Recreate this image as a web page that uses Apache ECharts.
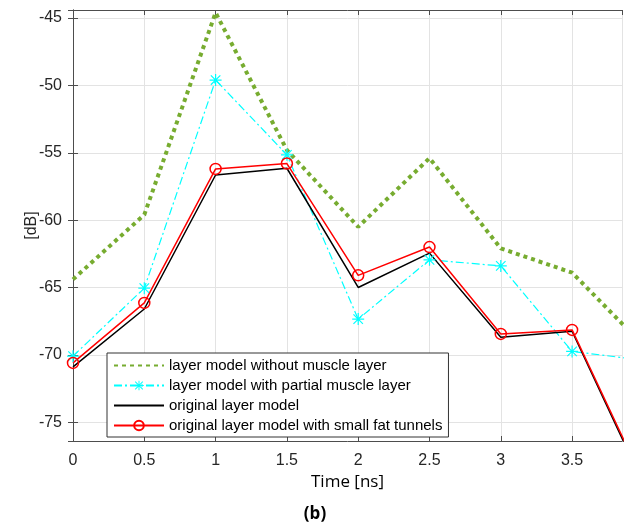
<!DOCTYPE html>
<html>
<head>
<meta charset="utf-8">
<script src="https://cdn.jsdelivr.net/npm/echarts@6/dist/echarts.min.js"></script>
<style>
  html, body { margin: 0; padding: 0; background: #fff; }
  #chart { width: 630px; height: 526px; }
</style>
</head>
<body>
<div id="chart"></div>
<script>
// time axis [ns]; last point lies past the visible range and gets clipped
const timeNs = [0, 0.5, 1, 1.5, 2, 2.5, 3, 3.5, 4];
const withoutMuscle = [-64.4, -59.6, -44.6, -54.8, -60.5, -55.4, -62.1, -63.9, -69.3];
const partialMuscle = [-70.1, -65.05, -49.6, -55.15, -67.35, -62.95, -63.4, -69.75, -70.4];
const originalModel = [-70.9, -66.6, -56.65, -56.15, -65.0, -62.45, -68.7, -68.25, -79.6];
const fatTunnels = [-70.6, -66.15, -56.2, -55.8, -64.1, -62.0, -68.45, -68.15, -79.4];
const seriesNames = [
  'layer model without muscle layer',
  'layer model with partial muscle layer',
  'original layer model',
  'original layer model with small fat tunnels'
];

const xRange = [0, 3.85];
const yRange = [-76.4, -44.4];

// asterisk marker (+ and x overlaid)
const asterisk = 'path://M0 9L20 9L20 11L0 11Z M9 0L11 0L11 20L9 20Z ' +
  'M1.4 2.8L2.8 1.4L18.6 17.2L17.2 18.6Z M17.2 1.4L18.6 2.8L2.8 18.6L1.4 17.2Z';

const pairs = vals => timeNs.map((t, i) => [t, vals[i]]);
const axisCol = '#4d4d4d';
const labelFont = { fontFamily: 'Liberation Sans', fontSize: 16, color: '#262626' };

const chart = echarts.init(document.getElementById('chart'), null, { renderer: 'canvas' });

chart.setOption({
  animation: false,
  backgroundColor: '#fff',
  grid: { left: 73, right: 8, top: 10, bottom: 85 },
  title: {
    text: '(b)', left: 'center', top: 501,
    textStyle: { fontFamily: 'Open Sans', fontWeight: 'bold', fontSize: 17, color: '#000' }
  },
  legend: {
    orient: 'vertical', left: 107, top: 353,
    itemWidth: 50, itemHeight: 12, itemGap: 5,
    padding: [5, 6, 4, 6],
    borderColor: '#333', borderWidth: 1, backgroundColor: '#fff',
    textStyle: { fontFamily: 'Liberation Sans', fontSize: 15, color: '#000' },
    data: [
      { name: seriesNames[0], itemStyle: { opacity: 0 } },
      { name: seriesNames[1] },
      { name: seriesNames[2], itemStyle: { opacity: 0 } },
      { name: seriesNames[3] }
    ]
  },
  xAxis: [{
    type: 'value', min: xRange[0], max: xRange[1], interval: 0.5,
    name: 'Time [ns]', nameLocation: 'middle', nameGap: 33,
    nameTextStyle: { fontFamily: 'Open Sans', fontSize: 17, color: '#000' },
    axisLine: { lineStyle: { color: axisCol } },
    axisTick: { inside: true, length: 5, lineStyle: { color: axisCol } },
    axisLabel: Object.assign({ margin: 12, showMaxLabel: false }, labelFont),
    splitLine: { lineStyle: { color: '#e3e3e3' } }
  }, {
    type: 'value', position: 'top', min: xRange[0], max: xRange[1], interval: 0.5,
    axisLine: { lineStyle: { color: axisCol } },
    axisTick: { inside: true, length: 5, lineStyle: { color: axisCol } },
    axisLabel: { show: false }, splitLine: { show: false }
  }],
  yAxis: [{
    type: 'value', min: yRange[0], max: yRange[1], splitNumber: 6,
    name: '[dB]', nameLocation: 'middle', nameGap: 33, nameMoveOverlap: false,
    nameTextStyle: { fontFamily: 'Liberation Sans', fontSize: 16, color: '#262626' },
    axisLine: { show: true, lineStyle: { color: axisCol } },
    axisTick: { show: true, inside: true, length: 5, lineStyle: { color: axisCol } },
    axisLabel: Object.assign({ margin: 11, showMinLabel: false, showMaxLabel: false }, labelFont),
    splitLine: { lineStyle: { color: '#e3e3e3' } }
  }, {
    type: 'value', position: 'right', min: yRange[0], max: yRange[1], splitNumber: 6,
    axisLine: { show: true, lineStyle: { color: axisCol } },
    axisTick: { show: true, inside: true, length: 5, lineStyle: { color: axisCol } },
    axisLabel: { show: false }, splitLine: { show: false }
  }],
  series: [{
    name: seriesNames[0], type: 'line', data: pairs(withoutMuscle),
    symbol: 'none', color: '#77ac30',
    lineStyle: { color: '#77ac30', width: 4, type: [4, 4], cap: 'butt' }
  }, {
    name: seriesNames[1], type: 'line', data: pairs(partialMuscle),
    symbol: asterisk, symbolSize: 12, showAllSymbol: true, color: '#00ffff',
    itemStyle: { color: '#00ffff' },
    lineStyle: { color: '#00ffff', width: 1.2, type: [8, 3, 2, 3] }
  }, {
    name: seriesNames[2], type: 'line', data: pairs(originalModel),
    symbol: 'none', color: '#000',
    lineStyle: { color: '#000', width: 1.5 }
  }, {
    name: seriesNames[3], type: 'line', data: pairs(fatTunnels),
    symbol: 'circle', symbolSize: 11, showAllSymbol: true, color: '#ff0000',
    itemStyle: { color: 'rgba(0,0,0,0)', borderColor: '#ff0000', borderWidth: 1.5 },
    lineStyle: { color: '#ff0000', width: 1.5 }
  }]
});
</script>
</body>
</html>
